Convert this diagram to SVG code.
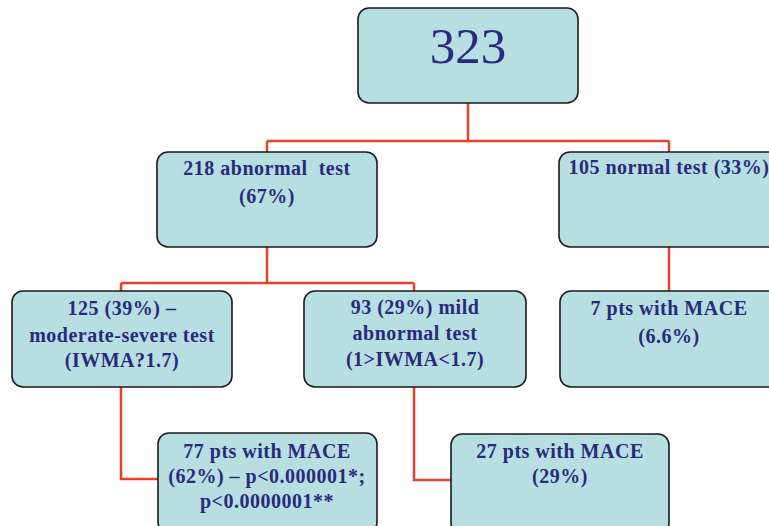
<svg xmlns="http://www.w3.org/2000/svg" width="769" height="526" viewBox="0 0 769 526">
<style>
.box{fill:#b7dfe1;stroke:#1a1a1a;stroke-width:1.6}
.t{font-family:"Liberation Serif","Times New Roman",serif;font-weight:bold;font-size:20px;fill:#2a2a7c;text-anchor:middle;letter-spacing:0.5px}
.big{font-family:"Liberation Serif","Times New Roman",serif;font-size:51px;fill:#2a2a7c;text-anchor:middle}
.c{fill:none;stroke:#e8412b;stroke-width:2.5}
</style>
<rect width="769" height="526" fill="#ffffff"/>
<g id="connectors">
<path class="c" d="M468 103 V141 M267 141 H669 M267 141 V152 M669 141 V152"/>
<path class="c" d="M267 247 V283 M121 283 H414 M121 283 V291 M414 283 V291"/>
<path class="c" d="M669 247 V291"/>
<path class="c" d="M121 387 V479 H158"/>
<path class="c" d="M414 387 V480 H451"/>
</g>
<g id="n323">
<rect class="box" x="358" y="8" width="220" height="95" rx="11"/>
<text class="big" x="468" y="63">323</text>
</g>
<g id="n218">
<rect class="box" x="157" y="152" width="220" height="95" rx="11"/>
<text class="t" x="267" y="175">218 abnormal&#160; test</text>
<text class="t" x="267" y="203">(67%)</text>
</g>
<g id="n105">
<rect class="box" x="559" y="152" width="220" height="95" rx="11"/>
<text class="t" x="669" y="174">105 normal test (33%)</text>
</g>
<g id="n125">
<rect class="box" x="12" y="291" width="220" height="96" rx="11"/>
<text class="t" x="122" y="315">125 (39%) –</text>
<text class="t" x="122" y="342">moderate-severe test</text>
<text class="t" x="122" y="367">(IWMA?1.7)</text>
</g>
<g id="n93">
<rect class="box" x="304" y="291" width="222" height="96" rx="11"/>
<text class="t" x="415" y="314">93 (29%) mild</text>
<text class="t" x="415" y="340">abnormal test</text>
<text class="t" x="415" y="366">(1&gt;IWMA&lt;1.7)</text>
</g>
<g id="n7">
<rect class="box" x="560" y="291" width="220" height="96" rx="11"/>
<text class="t" x="669" y="315">7 pts with MACE</text>
<text class="t" x="669" y="343">(6.6%)</text>
</g>
<g id="n77">
<rect class="box" x="158" y="433" width="219" height="100" rx="11"/>
<text class="t" x="267" y="458">77 pts with MACE</text>
<text class="t" x="267" y="483">(62%) – p&lt;0.000001*;</text>
<text class="t" x="267" y="508">p&lt;0.0000001**</text>
</g>
<g id="n27">
<rect class="box" x="451" y="434" width="218" height="100" rx="11"/>
<text class="t" x="560" y="458">27 pts with MACE</text>
<text class="t" x="560" y="483">(29%)</text>
</g>
</svg>
